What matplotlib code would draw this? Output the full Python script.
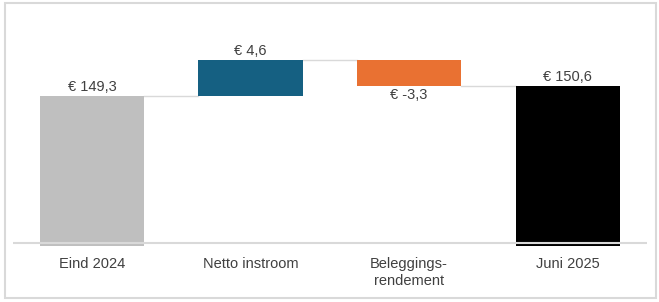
import matplotlib
matplotlib.use("Agg")
import matplotlib.pyplot as plt
from matplotlib.patches import Rectangle

categories = ["Eind 2024", "Netto instroom", "Beleggings-\nrendement", "Juni 2025"]
start_value = 149.3
changes = [4.6, -3.3]
end_value = 150.6
colors = ["#BFBFBF", "#156082", "#E97132", "#000000"]

plt.rcParams['font.family'] = ['Liberation Sans Narrow', 'Liberation Sans', 'DejaVu Sans']

W, H = 659, 302
fig = plt.figure(figsize=(W / 100, H / 100), dpi=100)
ax = fig.add_axes([12.6 / W, (H - 245.7) / H, (647 - 12.6) / W, (245.7 - 20) / H])

ylow, ytop = 129.82, 159.13
ax.set_ylim(ylow, ytop)
ax.set_xlim(-0.5, 3.5)

bw = 0.657
bottoms, heights = [], []
bottoms.append(ylow); heights.append(start_value - ylow)
level = start_value
for c in changes:
    bottoms.append(min(level, level + c)); heights.append(abs(c))
    level += c
bottoms.append(ylow); heights.append(end_value - ylow)

xs = range(len(categories))
ax.bar(xs, heights, bottom=bottoms, width=bw, color=colors, zorder=2)

levels = [start_value]
lv = start_value
for c in changes:
    lv += c
    levels.append(lv)
for i, lv in enumerate(levels):
    ax.plot([i + bw / 2, i + 1 - bw / 2], [lv, lv], color="#D9D9D9", lw=1.0, zorder=1)

ax.axhline(ylow + 0.39, color="#D9D9D9", lw=1.5, zorder=3)

def fmt(v):
    return "€ " + f"{v:.1f}".replace(".", ",")

txtc = "#404040"
fs = 10.5
ax.annotate(fmt(start_value), (0, start_value), xytext=(0, 1.5), textcoords="offset points",
            ha="center", va="bottom", fontsize=fs, color=txtc)
lv = start_value
for i, c in enumerate(changes, start=1):
    top = max(lv, lv + c); bot = min(lv, lv + c)
    if c >= 0:
        ax.annotate(fmt(c), (i, top), xytext=(0, 1.5), textcoords="offset points",
                    ha="center", va="bottom", fontsize=fs, color=txtc)
    else:
        ax.annotate(fmt(c), (i, bot), xytext=(0, -1.5), textcoords="offset points",
                    ha="center", va="top", fontsize=fs, color=txtc)
    lv += c
ax.annotate(fmt(end_value), (3, end_value), xytext=(0, 1.5), textcoords="offset points",
            ha="center", va="bottom", fontsize=fs, color=txtc)

ax.set_xticks(list(xs))
ax.set_xticklabels(categories, fontsize=fs, color=txtc, linespacing=1.3)
ax.tick_params(axis="x", length=0, pad=8)
ax.set_yticks([])
for s in ax.spines.values():
    s.set_visible(False)

fig.patches.append(Rectangle((5 / W, 4 / H), (655.6 - 5) / W, (297.7 - 2.7) / H,
                             transform=fig.transFigure, fill=False,
                             edgecolor="#D9D9D9", lw=1.5))

fig.savefig("out.png", dpi=100)
